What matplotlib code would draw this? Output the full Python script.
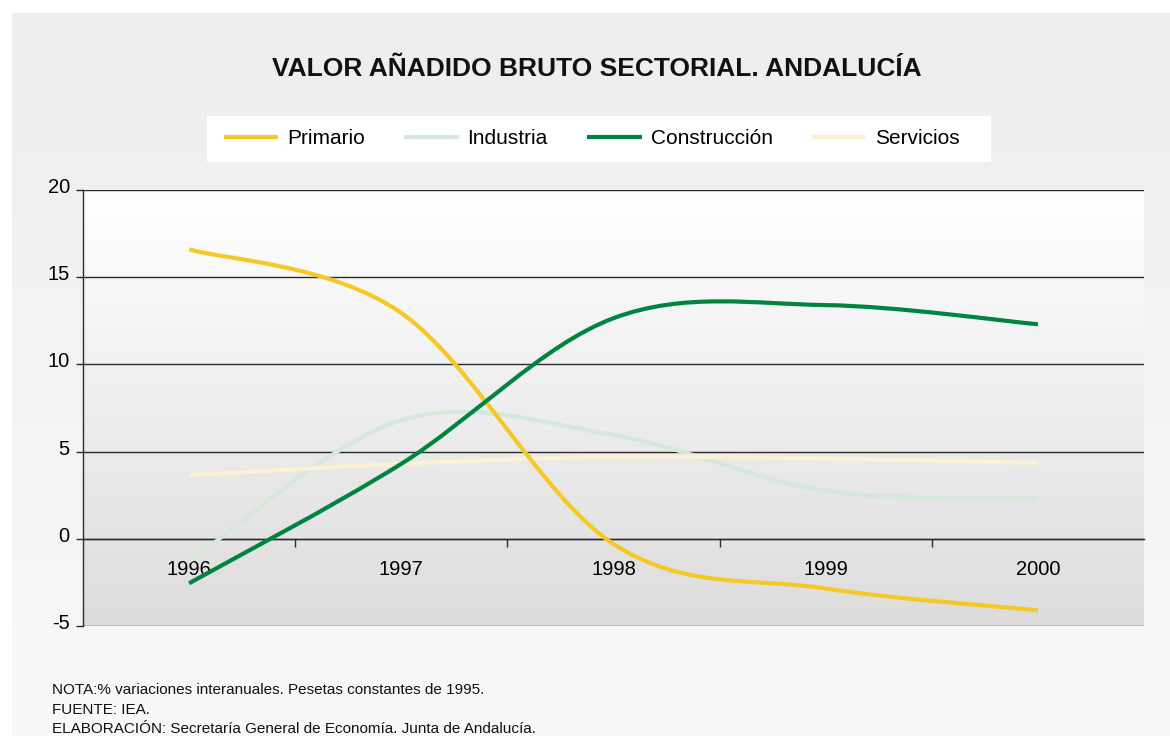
import numpy as np
import matplotlib
matplotlib.use("Agg")
import matplotlib.pyplot as plt
from matplotlib.path import Path
from matplotlib.patches import PathPatch, Rectangle
from matplotlib.lines import Line2D
import matplotlib.transforms as mtransforms

years = ["1996", "1997", "1998", "1999", "2000"]
primario = [16.6, 12.95, -0.3, -2.85, -4.1]
industria = [-1.3, 6.8, 5.95, 2.75, 2.3]
construccion = [-2.55, 4.3, 12.65, 13.4, 12.3]
servicios = [3.65, 4.3, 4.7, 4.6, 4.35]

series_names = ["Primario", "Industria", "Construcción", "Servicios"]
series_vals = [primario, industria, construccion, servicios]
colors = ["#f5c826", "#d5e8da", "#00843f", "#fcf1d6"]

yticks = [-5, 0, 5, 10, 15, 20]

title = "VALOR AÑADIDO BRUTO SECTORIAL. ANDALUCÍA"
notes = ["NOTA:% variaciones interanuales. Pesetas constantes de 1995.",
         "FUENTE: IEA.",
         "ELABORACIÓN: Secretaría General de Economía. Junta de Andalucía."]

plt.rcParams["font.family"] = ["Liberation Sans", "DejaVu Sans"]
plt.rcParams["axes.unicode_minus"] = False

W, H = 1170, 736
fig = plt.figure(figsize=(W / 100, H / 100), dpi=100)
fig.patch.set_facecolor("white")

g = np.linspace(0, 1, 256).reshape(-1, 1, 1) * np.ones((1, 1, 3))

# outer grey panel
bg = fig.add_axes([12 / W, 0, (W - 12) / W, (H - 13) / H], zorder=-10)
top, bot = 0.933, 0.975
bg.imshow(top + (bot - top) * g, aspect="auto", extent=[0, 1, 0, 1], vmin=0, vmax=1)
bg.set_axis_off()

ax = fig.add_axes([83 / W, 1 - 626 / H, (1144 - 83) / W, (626 - 190) / H])
ptop, pbot = 1.0, 0.865
ax.imshow(ptop + (pbot - ptop) * g, aspect="auto",
          extent=[0, 1, 0, 1], transform=ax.transAxes, zorder=0)

x = np.arange(len(years))


def smooth_path(xs, ys):
    pts = np.column_stack([xs, ys]).astype(float)
    n = len(pts)
    verts = [pts[0]]
    codes = [Path.MOVETO]
    for i in range(n - 1):
        p0 = pts[i - 1] if i > 0 else pts[i]
        p1 = pts[i]
        p2 = pts[i + 1]
        p3 = pts[i + 2] if i + 2 < n else pts[i + 1]
        c1 = p1 + (p2 - p0) / 6.0
        c2 = p2 - (p3 - p1) / 6.0
        verts += [c1, c2, p2]
        codes += [Path.CURVE4] * 3
    return Path(verts, codes)


order = [1, 3, 0, 2]
for i in order:
    patch = PathPatch(smooth_path(x, series_vals[i]), fill=False, edgecolor=colors[i],
                      lw=3.0, zorder=3, capstyle="butt")
    ax.add_patch(patch)
handles = [Line2D([], [], color=c, lw=3.0, solid_capstyle="butt") for c in colors]

ax.set_xlim(-0.5, len(years) - 0.5)
ax.set_ylim(-5, 20)
ax.set_yticks(yticks)
ax.yaxis.grid(True, color="#2a2a2a", lw=1.0, zorder=1)
ax.set_axisbelow(False)
for s in ["right", "top"]:
    ax.spines[s].set_visible(False)
ax.spines["left"].set_color("#2a2a2a")
ax.spines["left"].set_linewidth(1.0)
ax.spines["bottom"].set_position(("data", 0))
ax.spines["bottom"].set_color("#2a2a2a")
ax.spines["bottom"].set_linewidth(1.0)

ax.set_xticks(x)
ax.set_xticklabels(years, fontsize=14.5)
ax.tick_params(axis="x", which="major", length=0, pad=15)
ax.set_xticks(np.arange(0.5, len(years) - 0.5, 1.0), minor=True)
ax.tick_params(axis="x", which="minor", length=6, width=1.0, color="#2a2a2a", direction="out")

ax.tick_params(axis="y", length=5, width=1.0, color="#2a2a2a", direction="out", pad=4.5,
               labelsize=14.5)
for lab in ax.get_yticklabels():
    lab.set_transform(lab.get_transform() +
                      mtransforms.ScaledTranslation(0, 4.5 / 100, fig.dpi_scale_trans))

fig.text(597 / W, 1 - 68.5 / H, title, ha="center", va="center", fontsize=19,
         fontweight="bold", color="#111111")

# legend box
fig.patches.append(Rectangle((207 / W, 1 - 162 / H), (991 - 207) / W, 46 / H,
                             transform=fig.transFigure, facecolor="white",
                             edgecolor="none", zorder=1))
leg = fig.legend(handles, series_names, ncol=4, loc="center left",
                 bbox_to_anchor=(224 / W, 1 - 139 / H), frameon=False,
                 fontsize=15, handlelength=2.6, handletextpad=0.43, columnspacing=1.9,
                 borderpad=0, borderaxespad=0)
leg.set_zorder(2)

for k, line in enumerate(notes):
    fig.text(52 / W, 1 - (690 + 19.5 * k) / H, line, ha="left", va="center",
             fontsize=11, color="#111111")

fig.savefig("out.png", dpi=100)
